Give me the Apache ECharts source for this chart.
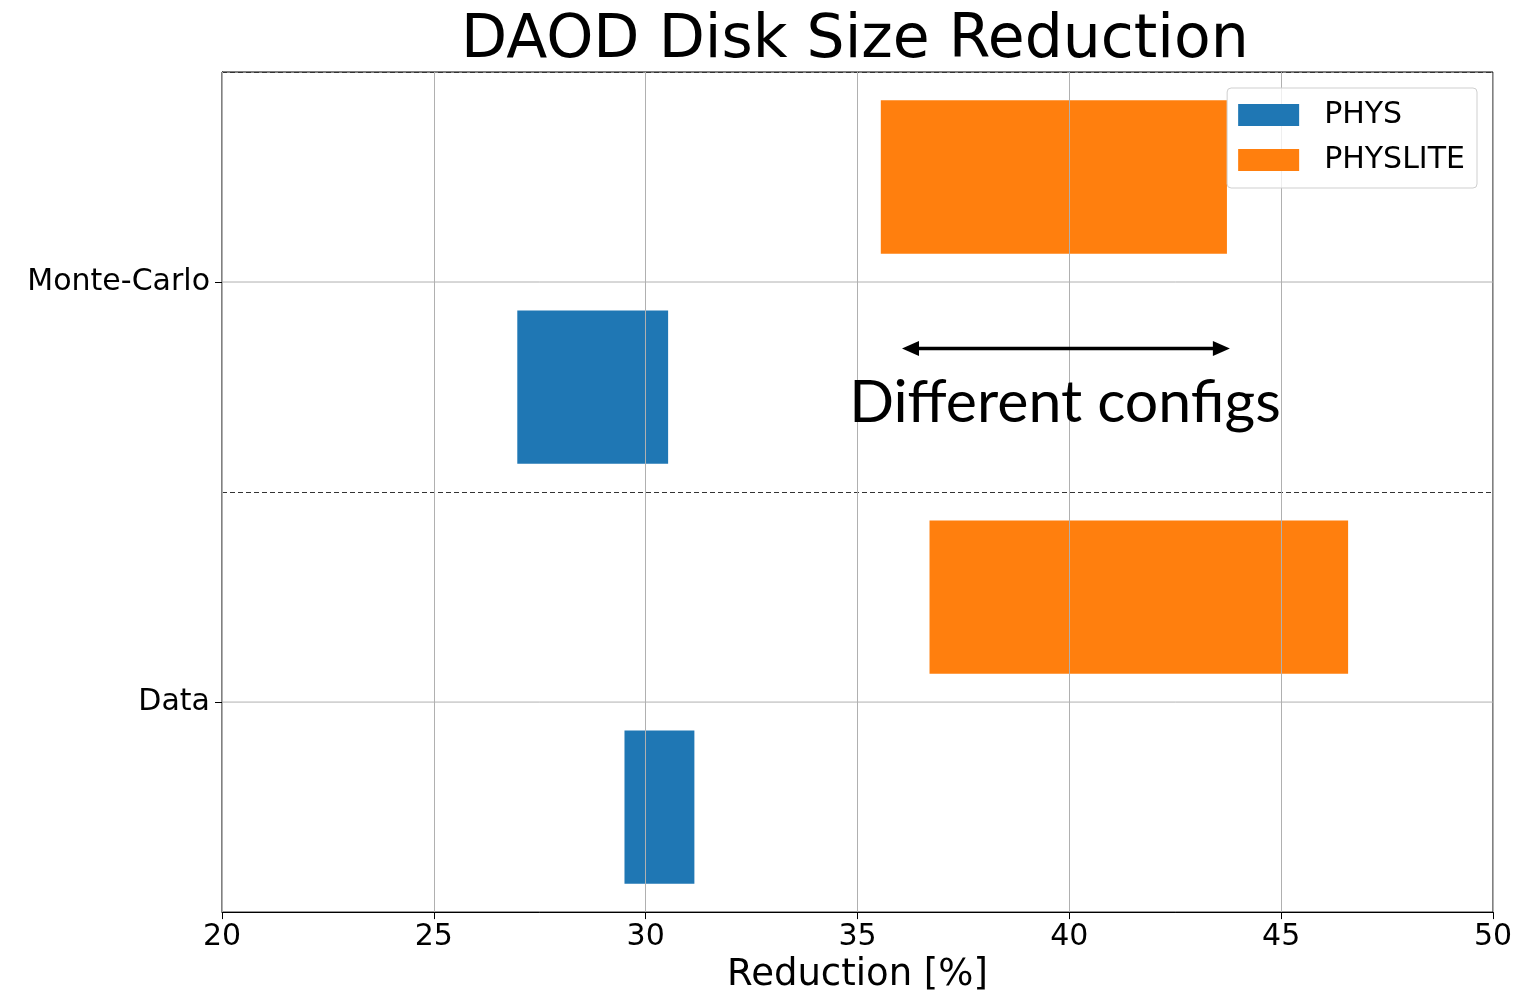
<!DOCTYPE html>
<html><head><meta charset="utf-8">
<script src="https://cdn.jsdelivr.net/npm/echarts@6/dist/echarts.min.js"></script>
<style>html,body{margin:0;padding:0;background:#fff}#c{width:1527px;height:999px}</style>
</head><body><div id="c"></div>
<script>
const categories = ['Data', 'Monte-Carlo'];
const physLow = [29.5, 26.97];
const physHigh = [31.15, 30.53];
const physliteLow = [36.7, 35.55];
const physliteHigh = [46.58, 43.72];
const seriesNames = ['PHYS', 'PHYSLITE'];
const arrowRange = [36.05, 43.79];
const annotationText = 'Different configs';
const FONT = 'DejaVu Sans';
const X_MIN = 20, X_MAX = 50;

function rangeData(lo, hi) { return categories.map((c, i) => [lo[i], hi[i], i]); }

function makeRender(offset) {
  return function (params, api) {
    const lo = api.value(0), hi = api.value(1), cat = api.value(2);
    const p0 = api.coord([lo, cat]);
    const p1 = api.coord([hi, cat]);
    const band = api.size([0, 1])[1];
    const h = band * 0.365;
    const cy = p0[1] + offset * band;
    return { type: 'rect', shape: { x: p0[0], y: cy - h / 2, width: p1[0] - p0[0], height: h }, style: api.style() };
  };
}

function gridRender(params, api) {
  const cat = api.value(2);
  const p0 = api.coord([X_MIN, cat]);
  const p1 = api.coord([X_MAX, cat]);
  return { type: 'line', shape: { x1: p0[0], y1: p0[1], x2: p1[0], y2: p1[1] }, style: { stroke: '#b0b0b0', lineWidth: 1 } };
}

const chart = echarts.init(document.getElementById('c'), null, { renderer: 'canvas' });
chart.setOption({
  animation: false,
  backgroundColor: '#fff',
  title: {
    text: 'DAOD Disk Size Reduction', left: 461, top: 11, padding: 0,
    textStyle: { fontFamily: FONT, fontSize: 60, fontWeight: 'normal', color: '#000' }
  },
  legend: {
    data: seriesNames, orient: 'vertical', right: 50, top: 88, icon: 'rect',
    itemWidth: 61, itemHeight: 22, itemGap: 15,
    padding: [12, 12, 13, 11], borderColor: '#cfcfcf', borderWidth: 1, borderRadius: 4,
    backgroundColor: 'rgba(255,255,255,0.8)',
    textStyle: { fontFamily: FONT, fontSize: 30, color: '#000', lineHeight: 30, padding: [0, 0, 0, 20] }
  },
  grid: { left: 222, right: 34, top: 72, bottom: 84, show: true, borderColor: '#000', borderWidth: 1, containLabel: false },
  xAxis: {
    type: 'value', min: X_MIN, max: X_MAX, interval: 5, z: 3,
    name: 'Reduction [%]', nameLocation: 'middle', nameGap: 43,
    nameTextStyle: { fontFamily: FONT, fontSize: 37, color: '#000' },
    axisLine: { show: true, lineStyle: { color: '#000', width: 1 } },
    axisTick: { show: true, length: 7, lineStyle: { color: '#000' } },
    axisLabel: { fontFamily: FONT, fontSize: 30, color: '#000', margin: 10 },
    splitLine: { show: true, lineStyle: { color: '#b0b0b0', width: 1 } }
  },
  yAxis: {
    type: 'category', data: categories,
    axisLine: { show: true, lineStyle: { color: '#000', width: 1 } },
    axisTick: { show: true, alignWithLabel: true, length: 7, lineStyle: { color: '#000' } },
    axisLabel: { fontFamily: FONT, fontSize: 30, color: '#000', margin: 12 },
    splitLine: { show: true, lineStyle: { color: '#333', width: 1.2, type: [5, 3] } }
  },
  series: [
    {
      name: 'grid', type: 'custom', renderItem: gridRender, silent: true, z: 1,
      encode: { x: [0, 1], y: 2 },
      data: categories.map((c, i) => [X_MIN, X_MAX, i])
    },
    {
      name: seriesNames[0], type: 'custom', renderItem: makeRender(0.25),
      itemStyle: { color: '#1f77b4' }, encode: { x: [0, 1], y: 2 },
      data: rangeData(physLow, physHigh)
    },
    {
      name: seriesNames[1], type: 'custom', renderItem: makeRender(-0.25),
      itemStyle: { color: '#ff7f0e' }, encode: { x: [0, 1], y: 2 },
      data: rangeData(physliteLow, physliteHigh)
    }
  ]
});

// annotation: double-headed arrow and text, placed via axis scales
const pA = chart.convertToPixel({ xAxisIndex: 0, yAxisIndex: 0 }, [arrowRange[0], 1]);
const pB = chart.convertToPixel({ xAxisIndex: 0, yAxisIndex: 0 }, [arrowRange[1], 1]);
const pD = chart.convertToPixel({ xAxisIndex: 0, yAxisIndex: 0 }, [arrowRange[0], 0]);
const band = pD[1] - pA[1];
const ay = pA[1] + band * 0.158;
const ty = pA[1] + band * 0.288;
const hl = 17, hw = 7.5;
chart.setOption({
  graphic: [
    { type: 'line', shape: { x1: pA[0] + hl - 2, y1: ay, x2: pB[0] - hl + 2, y2: ay }, style: { stroke: '#000', lineWidth: 3.5 }, z: 10 },
    { type: 'polygon', shape: { points: [[pA[0], ay], [pA[0] + hl, ay - hw], [pA[0] + hl, ay + hw]] }, style: { fill: '#000' }, z: 10 },
    { type: 'polygon', shape: { points: [[pB[0], ay], [pB[0] - hl, ay - hw], [pB[0] - hl, ay + hw]] }, style: { fill: '#000' }, z: 10 },
    { type: 'text', x: (pA[0] + pB[0]) / 2 - 1, y: ty, z: 10,
      style: { text: annotationText, fontFamily: 'Lato', fontSize: 59, fill: '#000', align: 'center', verticalAlign: 'middle' } }
  ]
});
</script></body></html>
